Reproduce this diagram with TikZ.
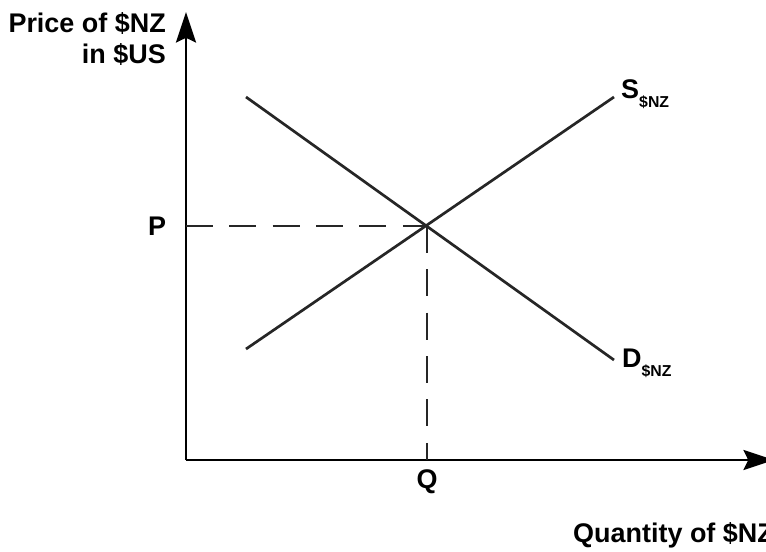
\documentclass[tikz,border=0pt]{standalone}
\usepackage{fontspec}
\setmainfont{Liberation Sans}
\usetikzlibrary{arrows.meta,positioning}
\newcommand{\subtxt}[1]{\raisebox{-8pt}{\fontsize{13.5}{15}\selectfont #1}}

\begin{document}
\begin{tikzpicture}[
  x=0.03cm, y=-0.03cm,
  axis/.style={line width=2.4pt, -{Stealth[length=26pt, width=17pt, inset=4pt]}},
  curve/.style={line width=2.3pt, black!85},
  guide/.style={line width=2.3pt, black!85, dash pattern=on 23pt off 14pt},
  lbl/.style={font=\fontsize{23}{27}\selectfont\bfseries, inner sep=0pt}
]
\useasboundingbox (0,0) rectangle (766,551);

% Axes
\coordinate (origin) at (186,460);
\coordinate (ytop) at (186,12);
\coordinate (xend) at (774,460);
\draw[axis] (origin) -- (ytop);
\draw[axis] (origin) -- (xend);

% Supply and demand
\coordinate (s0) at (246,349);
\coordinate (s1) at (614,97);
\coordinate (d0) at (246,97);
\coordinate (d1) at (614,360);
\draw[curve] (s0) -- (s1);
\draw[curve] (d0) -- (d1);

% Equilibrium guides
\coordinate (eq) at (427,226);
\coordinate (pmark) at (186,226);
\coordinate (qmark) at (427,460);
\draw[guide] (pmark) -- (eq);
\draw[guide] (eq) -- (qmark);

% Labels
\node[lbl, anchor=north east, align=right] (ylabel) at (166,12) {Price of \$NZ\\in \$US};
\node[lbl, anchor=base west] (xlabel) at (573,542) {Quantity of \$NZ};
\node[lbl] (plabel) at (157,226) {P};
\node[lbl] (qlabel) at (427,482) {Q};
\node[lbl, anchor=base west] (slabel) at (621,98) {S\subtxt{\$NZ}};
\node[lbl, anchor=base west] (dlabel) at (622,367) {D\subtxt{\$NZ}};

\end{tikzpicture}
\end{document}
